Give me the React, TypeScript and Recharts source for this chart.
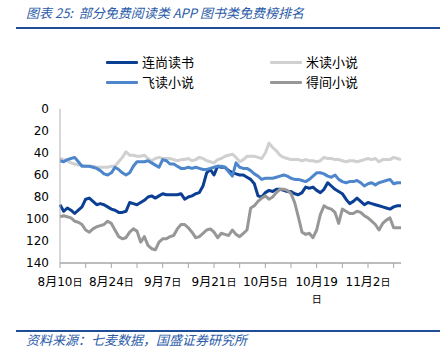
import React from 'react';
import { LineChart, Line, XAxis, YAxis } from 'recharts';

// 8月10日 .. 11月12日, one point per day
const startMonth = 8;
const startDay = 10;
const dayCount = 94;
const monthDays: Record<number, number> = { 8: 31, 9: 30, 10: 31, 11: 30 };

const dates: string[] = [];
{
  let m = startMonth;
  let d = startDay;
  for (let i = 0; i < dayCount; i++) {
    dates.push(`${m}月${d}日`);
    d += 1;
    if (d > monthDays[m]) {
      d = 1;
      m += 1;
    }
  }
}

const xLabels = ['8月10日', '8月24日', '9月7日', '9月21日', '10月5日', '10月19日', '11月2日'];
const yTicks = [0, 20, 40, 60, 80, 100, 120, 140];

const lianshang = [
  87, 93, 90, 92, 95, 92, 89, 82, 81, 84,
  87, 86, 87, 89, 91, 92, 94, 94, 93, 85,
  86, 87, 85, 83, 80, 79, 81, 79, 77, 78,
  78, 78, 78, 77, 82, 80, 79, 77, 76, 70,
  58, 55, 60, 52, 53, 53, 56, 58, 59, 60,
  60, 62, 64, 68, 79, 80, 76, 74, 75, 73,
  73, 74, 75, 75, 77, 78, 76, 71, 72, 71,
  74, 76, 73, 67, 70, 73, 75, 77, 82, 86,
  84, 81, 84, 87, 85, 86, 87, 88, 89, 90,
  91, 89, 88, 88,
];

const midu = [
  45, 46, 47, 49, 50, 51, 51, 52, 52, 52,
  53, 53, 53, 53, 52, 52, 48, 44, 39, 42,
  42, 43, 43, 42, 45, 47, 45, 44, 45, 45,
  45, 46, 47, 46, 46, 45, 47, 46, 44, 45,
  47, 48, 49, 46, 45, 43, 42, 41, 44, 48,
  46, 43, 43, 43, 44, 45, 40, 31, 35, 38,
  42, 44, 45, 46, 46, 46, 47, 46, 47, 47,
  48, 47, 44, 45, 45, 46, 46, 47, 48, 47,
  47, 48, 47, 46, 45, 46, 45, 48, 46, 46,
  46, 44, 45, 46,
];

const feidu = [
  47, 48, 46, 45, 44, 48, 52, 52, 52, 53,
  54, 56, 59, 60, 58, 53, 55, 58, 60, 58,
  52, 48, 48, 48, 47, 49, 51, 53, 46, 47,
  50, 50, 52, 54, 54, 53, 54, 53, 54, 55,
  55, 54, 53, 52, 52, 53, 57, 61, 49, 53,
  54, 54, 56, 59, 61, 64, 63, 63, 63, 62,
  61, 60, 61, 63, 64, 64, 65, 66, 64, 61,
  58, 58, 59, 61, 62, 60, 64, 66, 67, 66,
  66, 65, 67, 70, 68, 67, 69, 67, 66, 65,
  64, 68, 67, 67,
];

const dejian = [
  98, 97, 98, 99, 102, 103, 105, 110, 112, 109,
  107, 106, 105, 102, 104, 110, 116, 118, 117, 112,
  109, 111, 121, 116, 124, 127, 128, 121, 118, 118,
  116, 115, 109, 105, 105, 108, 112, 117, 116, 113,
  110, 109, 112, 117, 113, 114, 115, 110, 114, 116,
  113, 110, 90, 88, 84, 81, 79, 82, 80, 76,
  73, 73, 74, 77, 85, 98, 112, 114, 113, 117,
  110, 96, 88, 90, 91, 94, 104, 91, 93, 95,
  95, 93, 94, 97, 99, 102, 105, 110, 104, 101,
  99, 108, 108, 108,
];

const series = [
  { key: 'lianshang', name: '连尚读书', color: '#0B3F94' },
  { key: 'midu', name: '米读小说', color: '#D0D0D0' },
  { key: 'feidu', name: '飞读小说', color: '#4E86CB' },
  { key: 'dejian', name: '得间小说', color: '#979797' },
];

const data = dates.map((date, i) => ({
  date,
  lianshang: lianshang[i],
  midu: midu[i],
  feidu: feidu[i],
  dejian: dejian[i],
}));

const weekTicks = dates.filter((_, i) => i % 7 === 0);

const titleBlue = '#2C5CA8';
const ruleBlue = '#1F4E96';
const numFont = '"DejaVu Sans", "Noto Sans CJK SC", sans-serif';
const cjkFont = '"Noto Sans CJK SC", sans-serif';

const DateTick = (props: any) => {
  const { x, y, payload } = props;
  const label: string = payload.value;
  if (!xLabels.includes(label)) return <g />;
  const main = label.slice(0, -1);
  const wrap = label === '10月19日';
  return (
    <text x={x} y={y} textAnchor="middle" fill="#000" fontSize={12} fontFamily={numFont}>
      {wrap ? (
        <>
          <tspan x={x} dy={14}>{main}</tspan>
          <tspan x={x} dy={17} fontSize={10}>日</tspan>
        </>
      ) : (
        <tspan x={x} dy={14}>
          {main}
          <tspan fontSize={10}>日</tspan>
        </tspan>
      )}
    </text>
  );
};

const LegendItem = ({ name, color, left, top }: { name: string; color: string; left: number; top: number }) => (
  <div style={{ position: 'absolute', left, top, display: 'flex', alignItems: 'center', height: 16 }}>
    <div style={{ width: 32, height: 3, background: color, borderRadius: 1 }} />
    <span style={{ marginLeft: 4, fontSize: 13, fontFamily: cjkFont, color: '#000', lineHeight: '16px' }}>{name}</span>
  </div>
);

const App = () => {
  return (
    <div style={{ position: 'absolute', left: 0, top: 0, width: 448, height: 356, background: '#fff', overflow: 'hidden' }}>
      <div
        style={{
          position: 'absolute', left: 26, top: 5, fontSize: 13, lineHeight: '16px',
          fontStyle: 'italic', color: titleBlue, fontFamily: cjkFont, whiteSpace: 'nowrap',
        }}
      >
        图表 25:&nbsp; 部分免费阅读类 APP 图书类免费榜排名
      </div>
      <div style={{ position: 'absolute', left: 16, top: 27, width: 424, height: 2, background: ruleBlue }} />

      <LegendItem name={series[0].name} color={series[0].color} left={106} top={54} />
      <LegendItem name={series[1].name} color={series[1].color} left={270} top={54} />
      <LegendItem name={series[2].name} color={series[2].color} left={106} top={74} />
      <LegendItem name={series[3].name} color={series[3].color} left={270} top={74} />

      <div style={{ position: 'absolute', left: 0, top: 0 }}>
        <LineChart width={448} height={356} data={data} margin={{ top: 109, right: 47, bottom: 53, left: 0 }}>
          <XAxis
            dataKey="date"
            ticks={weekTicks}
            interval={0}
            tick={<DateTick />}
            tickSize={5}
            tickMargin={4}
            height={40}
            axisLine={{ stroke: '#a6a6a6', strokeWidth: 1.5 }}
            tickLine={{ stroke: '#a6a6a6' }}
          />
          <YAxis
            reversed
            domain={[0, 140]}
            ticks={yTicks}
            interval={0}
            width={60}
            tickLine={false}
            tickMargin={5}
            axisLine={{ stroke: '#b0b0b0' }}
            tick={{ fill: '#000', fontSize: 12, fontFamily: numFont }}
          />
          {series.map((s) => (
            <Line
              key={s.key}
              type="linear"
              dataKey={s.key}
              name={s.name}
              stroke={s.color}
              strokeWidth={3}
              dot={false}
              strokeLinejoin="round"
              isAnimationActive={false}
            />
          ))}
        </LineChart>
      </div>

      <div style={{ position: 'absolute', left: 16, top: 330, width: 424, height: 2, background: ruleBlue }} />
      <div
        style={{
          position: 'absolute', left: 26, top: 332, fontSize: 13, lineHeight: '16px',
          fontStyle: 'italic', color: titleBlue, fontFamily: cjkFont, whiteSpace: 'nowrap',
        }}
      >
        资料来源：七麦数据，国盛证券研究所
      </div>
    </div>
  );
};

export default App;
